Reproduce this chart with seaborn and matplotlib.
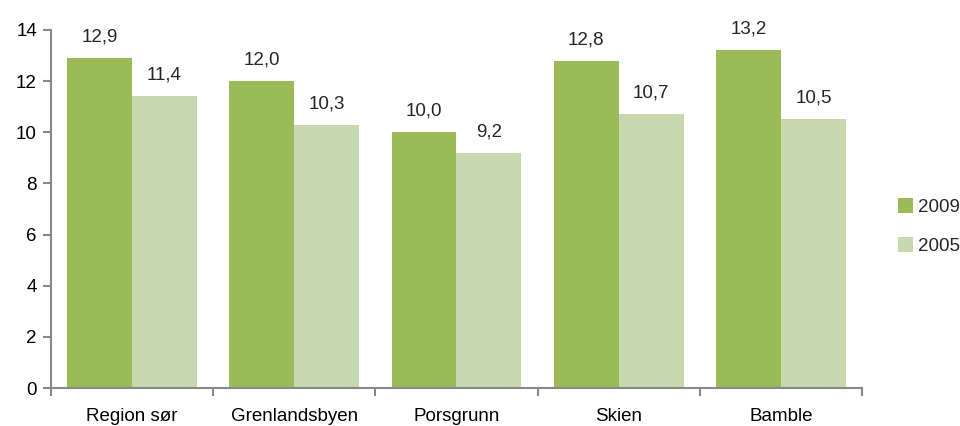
import pandas as pd
import matplotlib.pyplot as plt
import seaborn as sns

# Données
regions = ["Region sør", "Grenlandsbyen", "Porsgrunn", "Skien", "Bamble"]
v2009 = [12.9, 12.0, 10.0, 12.8, 13.2]
v2005 = [11.4, 10.3, 9.2, 10.7, 10.5]
years = ["2009", "2005"]
colors = ["#9BBB59", "#C7D7AE"]

df = pd.DataFrame({
    "region": regions * 2,
    "value": v2009 + v2005,
    "year": [years[0]] * len(regions) + [years[1]] * len(regions),
})

sns.set_style("white")
plt.rcParams["font.family"] = ["Liberation Sans Narrow", "Liberation Sans", "DejaVu Sans"]

fig = plt.figure(figsize=(9.6, 4.26), dpi=100)
ax = fig.add_axes([0.053, 0.089, 0.845, 0.841])
sns.barplot(data=df, x="region", y="value", hue="year", palette=colors,
            width=0.8, gap=0, saturation=1, ax=ax, linewidth=0)

for c in ax.containers:
    ax.bar_label(c, labels=[f"{v:.1f}".replace(".", ",") for v in c.datavalues],
                 padding=9, fontsize=13.5)

ax.set_ylim(0, 14)
ax.set_yticks(range(0, 15, 2))
ax.set_xlim(-0.5, len(regions) - 0.5)
ax.set_xlabel("")
ax.set_ylabel("")
ax.tick_params(axis="both", labelsize=13.5, labelcolor="black")
ax.tick_params(axis="y", length=6, width=1.5, direction="out", left=True, color="#888888", pad=4)
ax.tick_params(axis="x", length=0, pad=14)
# ticks entre les catégories
ax.set_xticks([i - 0.5 for i in range(len(regions) + 1)], minor=True)
ax.tick_params(axis="x", which="minor", length=6, width=1.5, color="#888888", bottom=True, direction="out")

for s in ["top", "right"]:
    ax.spines[s].set_visible(False)
for s in ["left", "bottom"]:
    ax.spines[s].set_color("#888888")
    ax.spines[s].set_linewidth(1.5)

ax.legend_.remove()
handles, labels = ax.get_legend_handles_labels()
fig.legend(handles, labels, frameon=False, fontsize=13.5, loc="center left",
           bbox_to_anchor=(0.935, 0.468), handlelength=0.8, handleheight=0.8,
           labelspacing=1.15, handletextpad=0.3, borderaxespad=0, borderpad=0)

fig.savefig("out.png", dpi=100)
